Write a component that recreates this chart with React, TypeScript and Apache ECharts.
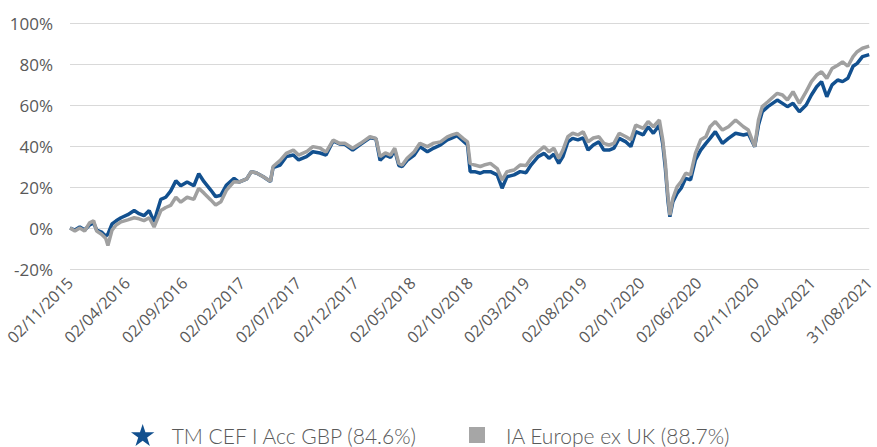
import React, { useEffect, useRef } from "react";
import * as echarts from "echarts";

const dates = [
  "2015-11-02", "2015-11-15", "2015-11-28", "2015-12-11", "2015-12-24", "2016-01-04", "2016-01-12", "2016-01-25",
  "2016-02-05", "2016-02-11", "2016-02-22", "2016-03-04", "2016-03-17", "2016-04-04", "2016-04-21", "2016-05-04",
  "2016-05-17", "2016-05-31", "2016-06-13", "2016-06-21", "2016-07-01", "2016-07-14", "2016-07-27", "2016-08-10",
  "2016-08-23", "2016-09-09", "2016-09-27", "2016-10-10", "2016-10-24", "2016-11-11", "2016-11-24", "2016-12-08",
  "2016-12-23", "2017-01-12", "2017-01-25", "2017-02-15", "2017-02-27", "2017-03-13", "2017-03-31", "2017-04-19",
  "2017-04-26", "2017-05-15", "2017-05-31", "2017-06-19", "2017-07-03", "2017-07-24", "2017-08-10", "2017-08-29",
  "2017-09-14", "2017-10-03", "2017-10-20", "2017-11-03", "2017-11-24", "2017-12-15", "2018-01-09", "2018-01-25",
  "2018-02-05", "2018-02-19", "2018-03-05", "2018-03-16", "2018-03-27", "2018-04-05", "2018-04-18", "2018-05-07",
  "2018-05-22", "2018-06-11", "2018-06-28", "2018-07-16", "2018-08-03", "2018-08-16", "2018-08-29", "2018-09-14",
  "2018-09-26", "2018-10-03", "2018-10-15", "2018-10-30", "2018-11-09", "2018-11-26", "2018-12-14", "2018-12-27",
  "2019-01-09", "2019-01-28", "2019-02-13", "2019-03-01", "2019-03-14", "2019-04-02", "2019-04-18", "2019-05-01",
  "2019-05-14", "2019-05-27", "2019-06-07", "2019-06-20", "2019-07-03", "2019-07-17", "2019-07-31", "2019-08-13",
  "2019-08-27", "2019-09-11", "2019-09-24", "2019-10-08", "2019-10-21", "2019-11-04", "2019-11-22", "2019-12-05",
  "2019-12-18", "2020-01-07", "2020-01-20", "2020-02-03", "2020-02-19", "2020-02-28", "2020-03-06", "2020-03-10",
  "2020-03-13", "2020-03-18", "2020-03-26", "2020-04-06", "2020-04-17", "2020-04-29", "2020-05-12", "2020-05-25",
  "2020-06-08", "2020-06-22", "2020-07-03", "2020-07-17", "2020-08-05", "2020-08-21", "2020-09-09", "2020-09-30",
  "2020-10-13", "2020-10-30", "2020-11-09", "2020-11-19", "2020-12-04", "2020-12-29", "2021-01-12", "2021-01-25",
  "2021-02-09", "2021-02-26", "2021-03-16", "2021-03-30", "2021-04-13", "2021-04-26", "2021-05-10", "2021-05-24",
  "2021-06-08", "2021-06-21", "2021-07-05", "2021-07-19", "2021-07-30", "2021-08-13", "2021-08-31",
];

const tmCef = [
  0, -1, 0.5, -1, 1.5, 2.5, -1, -2,
  -4, -3, 2, 3.5, 5, 6.5, 8.5, 7,
  6, 8.5, 3, 8, 14, 15, 18, 23,
  20.6, 22.4, 20.6, 26.5, 22.6, 18.5, 15.3, 16,
  21, 24.2, 22.4, 24, 27.5, 26.8, 25, 22.6,
  29.5, 30.7, 34.8, 35.6, 33.2, 34.8, 37.2, 36.6,
  35.6, 42.5, 41, 40.8, 38, 40.8, 44, 43.5,
  33, 35.5, 34.5, 38, 30.5, 30, 33, 35.6,
  39.7, 37.2, 39, 40.5, 43, 44, 45, 42.5,
  40.5, 27.5, 27.5, 26.7, 27.5, 27.5, 25.9, 19.4,
  25, 25.9, 27.5, 27, 30.7, 34.8, 36.4, 34,
  36, 31.5, 34.8, 42, 43.7, 43, 44, 38,
  40.5, 42, 38, 38, 39, 43.7, 42, 39.7,
  47, 45.4, 49.4, 46.2, 50.2, 41, 29, 20,
  13, 5.5, 12.8, 16.9, 19.4, 24.2, 23.5, 33.2,
  38, 41.3, 43.7, 47, 41.3, 43.7, 46.2, 45.4,
  46, 39.7, 50.2, 56.7, 59.2, 62.4, 60.8, 59.2,
  60.8, 56.7, 60, 64.9, 68.9, 71.4, 64, 69.8,
  72.2, 71.4, 73, 78.9, 80.3, 83.6, 84.6,
];

const iaEurope = [
  0, -1.5, 0, -1.5, 2.5, 3.5, -1.5, -3,
  -5, -8.5, -1, 1.5, 3, 4, 5, 4.5,
  3.6, 5, 0.5, 4, 8.5, 10, 11, 15,
  12.6, 15, 14, 19.4, 17, 13.7, 11.2, 12.8,
  18.5, 22.6, 22.4, 24, 27.5, 26.8, 25, 22.8,
  30, 33, 36.4, 38, 35.6, 37.2, 39.7, 39,
  37, 42.9, 41.3, 41.3, 38.9, 41.3, 44.5, 43.7,
  34.8, 36.6, 35.6, 38.9, 31.5, 30.7, 34, 37.2,
  41.3, 39.7, 41.4, 42, 44.5, 45.4, 46.2, 43.7,
  42, 31.5, 30.7, 30, 30.7, 31.5, 29, 23.4,
  27.5, 28.3, 30.7, 30.5, 34, 37.2, 39.7, 37.2,
  38.9, 34, 38, 44.5, 46.2, 45.4, 47, 42,
  43.9, 44.5, 41.3, 40.5, 41.3, 46.2, 44.5, 43,
  50.2, 48.6, 51.9, 49.4, 52.7, 43, 31.5, 21.8,
  15.3, 6.3, 14.5, 20.1, 22.6, 26.7, 25.9, 36.4,
  43, 44.5, 49.4, 51.9, 47.8, 49.4, 52.7, 49.4,
  47.8, 39.7, 52.7, 59.2, 61.6, 65.7, 64.9, 62.4,
  66.5, 60.8, 66.5, 71.4, 74.6, 76.2, 73, 77.8,
  79.4, 81, 78.9, 83.6, 86, 87.7, 88.7,
];

const xLabelDates = [
  "2015-11-02", "2016-04-02", "2016-09-02", "2017-02-02", "2017-07-02",
  "2017-12-02", "2018-05-02", "2018-10-02", "2019-03-02", "2019-08-02",
  "2020-01-02", "2020-06-02", "2020-11-02", "2021-04-02", "2021-08-31",
];

const seriesNames = ["TM CEF I Acc GBP (84.6%)", "IA Europe ex UK (88.7%)"];

const toTime = (s: string) => {
  const [y, m, d] = s.split("-").map(Number);
  return new Date(y, m - 1, d).getTime();
};

const pad = (n: number) => (n < 10 ? "0" + n : "" + n);

const STAR =
  "path://M12,0 L14.8,8.6 L24,8.6 L16.6,13.9 L19.4,22.6 L12,17.2 L4.6,22.6 L7.4,13.9 L0,8.6 L9.2,8.6 Z";

export default function App() {
  const ref = useRef<HTMLDivElement>(null);

  useEffect(() => {
    if (!ref.current) return;
    const chart = echarts.init(ref.current, null, { renderer: "svg" });
    const textColor = "#595959";
    const font = "'Open Sans', sans-serif";
    chart.setOption({
      animation: false,
      backgroundColor: "#ffffff",
      grid: { left: 70, right: 2, top: 23, bottom: 178, containLabel: false },
      xAxis: {
        type: "value",
        min: toTime(dates[0]),
        max: toTime(dates[dates.length - 1]),
        axisLine: { show: false },
        axisTick: { show: false },
        splitLine: { show: false },
        axisLabel: {
          customValues: xLabelDates.map(toTime),
          rotate: 45,
          margin: 11,
          color: textColor,
          fontFamily: font,
          fontSize: 16,
          showMinLabel: true,
          showMaxLabel: true,
          hideOverlap: false,
          formatter: (v: number) => {
            const d = new Date(v);
            return pad(d.getDate()) + "/" + pad(d.getMonth() + 1) + "/" + d.getFullYear();
          },
        },
      },
      yAxis: {
        type: "value",
        min: -20,
        max: 100,
        interval: 20,
        axisLine: { show: false },
        axisTick: { show: false },
        splitLine: { show: true, lineStyle: { color: "#d9d9d9", width: 1 } },
        axisLabel: {
          formatter: "{value}%",
          color: textColor,
          fontFamily: font,
          fontSize: 17,
          margin: 17,
        },
      },
      legend: [
        {
          data: [{ name: seriesNames[0], icon: STAR, itemStyle: { color: "#12508F" } }],
          left: 131,
          top: 424,
          itemWidth: 24,
          itemHeight: 22,
          padding: 0,
          textStyle: { color: textColor, fontFamily: "Lato, sans-serif", fontWeight: 300, fontSize: 21, lineHeight: 22, padding: [0, 0, 0, 12] },
        },
        {
          data: [{ name: seriesNames[1], icon: "rect", itemStyle: { color: "#A6A6A6" } }],
          left: 469,
          top: 424,
          itemWidth: 16,
          itemHeight: 16,
          padding: 0,
          textStyle: { color: textColor, fontFamily: "Lato, sans-serif", fontWeight: 300, fontSize: 21, lineHeight: 22, padding: [0, 0, 0, 16] },
        },
      ],
      series: [
        {
          name: seriesNames[0],
          type: "line",
          showSymbol: false,
          data: dates.map((d, i) => [toTime(d), tmCef[i]]),
          lineStyle: { color: "#12508F", width: 3.5 },
          itemStyle: { color: "#12508F" },
        },
        {
          name: seriesNames[1],
          type: "line",
          showSymbol: false,
          data: dates.map((d, i) => [toTime(d), iaEurope[i]]),
          lineStyle: { color: "#A0A0A0", width: 3.5 },
          itemStyle: { color: "#A6A6A6" },
        },
      ],
    });
    return () => chart.dispose();
  }, []);

  return <div ref={ref} style={{ width: 877, height: 447, position: "absolute", left: 0, top: 0 }} />;
}
